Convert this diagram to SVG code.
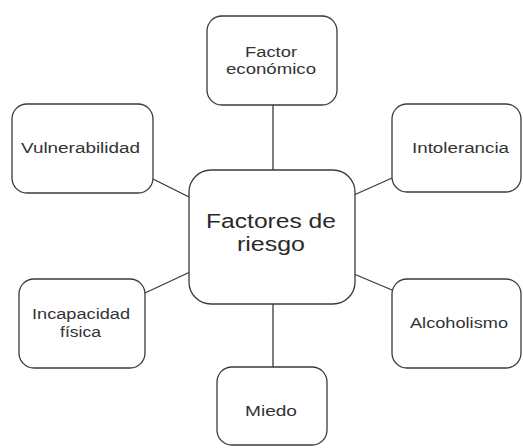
<svg xmlns="http://www.w3.org/2000/svg" width="523" height="448" viewBox="0 0 523 448">
<style>
.box{fill:#fff;stroke:#3a3a3a;stroke-width:1.3}
.ln{stroke:#3a3a3a;stroke-width:1.3;fill:none}
.t{font-family:"Liberation Sans",Arial,sans-serif;font-size:14px;fill:#333}
.big{font-family:"Liberation Sans",Arial,sans-serif;font-size:20px;fill:#2a2a2a}
</style>
<rect width="523" height="448" fill="#fff"/>
<g id="connectors">
<line class="ln" x1="273" y1="105" x2="273" y2="170"/>
<line class="ln" x1="273" y1="304" x2="273" y2="367"/>
<line class="ln" x1="153" y1="179" x2="191" y2="198"/>
<line class="ln" x1="392" y1="178" x2="354" y2="195"/>
<line class="ln" x1="145" y1="293" x2="190" y2="272"/>
<line class="ln" x1="392" y1="290" x2="354" y2="274"/>
</g>
<g id="center">
<rect class="box" x="189" y="170" width="166" height="134" rx="22"/>
<text class="big" x="206" y="228" textLength="130" lengthAdjust="spacingAndGlyphs">Factores de</text>
<text class="big" x="237" y="251" textLength="68" lengthAdjust="spacingAndGlyphs">riesgo</text>
</g>
<g id="factor-economico">
<rect class="box" x="207" y="16" width="130" height="89" rx="15"/>
<text class="t" x="245" y="57" textLength="52" lengthAdjust="spacingAndGlyphs">Factor</text>
<text class="t" x="226" y="74" textLength="90" lengthAdjust="spacingAndGlyphs">económico</text>
</g>
<g id="vulnerabilidad">
<rect class="box" x="12" y="104" width="141" height="89" rx="15"/>
<text class="t" x="21" y="153" textLength="119" lengthAdjust="spacingAndGlyphs">Vulnerabilidad</text>
</g>
<g id="intolerancia">
<rect class="box" x="392" y="104" width="129" height="88" rx="15"/>
<text class="t" x="412" y="153" textLength="97" lengthAdjust="spacingAndGlyphs">Intolerancia</text>
</g>
<g id="incapacidad">
<rect class="box" x="19" y="279" width="126" height="89" rx="15"/>
<text class="t" x="32" y="319" textLength="98" lengthAdjust="spacingAndGlyphs">Incapacidad</text>
<text class="t" x="60" y="337" textLength="41" lengthAdjust="spacingAndGlyphs">física</text>
</g>
<g id="alcoholismo">
<rect class="box" x="392" y="279" width="129" height="89" rx="15"/>
<text class="t" x="410" y="328" textLength="98" lengthAdjust="spacingAndGlyphs">Alcoholismo</text>
</g>
<g id="miedo">
<rect class="box" x="217" y="367" width="110" height="78" rx="15"/>
<text class="t" x="245" y="416" textLength="52" lengthAdjust="spacingAndGlyphs">Miedo</text>
</g>
</svg>
